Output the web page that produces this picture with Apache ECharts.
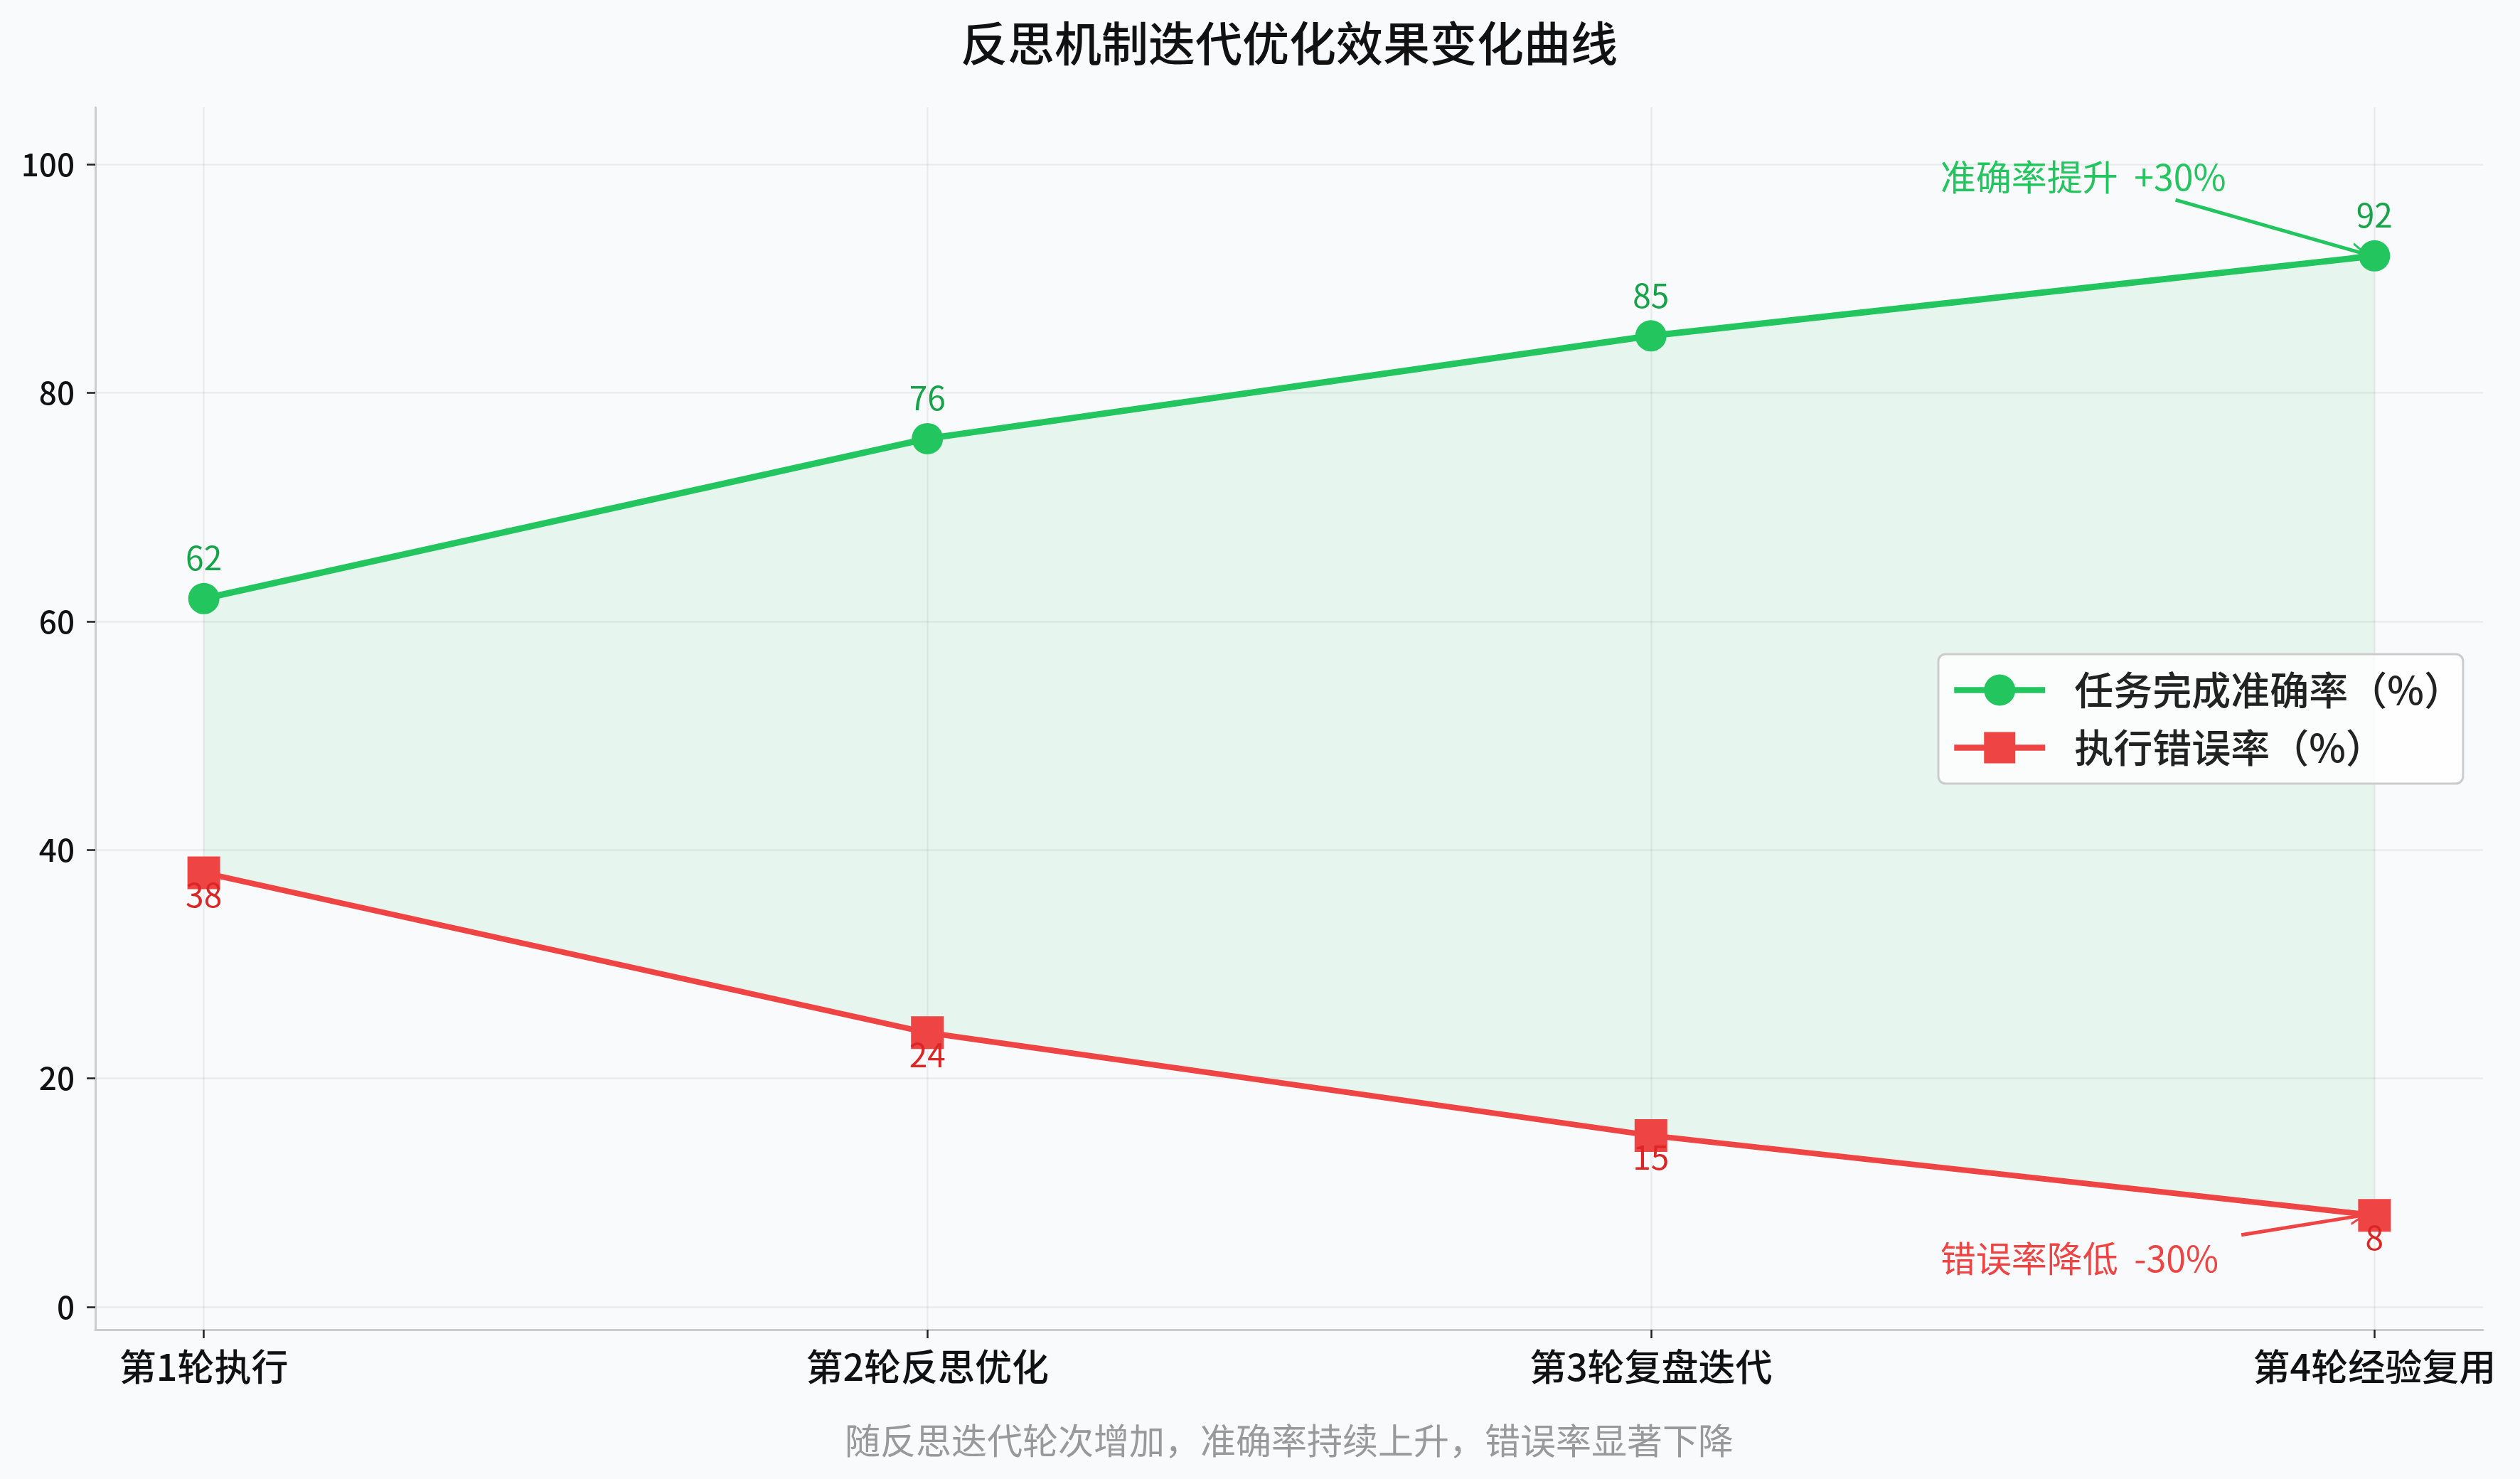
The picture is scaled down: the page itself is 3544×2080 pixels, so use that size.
<!DOCTYPE html>
<html lang="zh">
<head>
    <meta charset="UTF-8">
    <script src="https://cdn.jsdelivr.net/npm/echarts@6.0.0/dist/echarts.min.js"></script>
    <title>反思机制迭代优化效果变化曲线</title>
    <style>
        html, body { margin: 0; padding: 0; background: #f8fafc; }
        #chart { width: 3544px; height: 2080px; }
    </style>
</head>
<body>
    <div id="chart"></div>
    <script>
        // 数据
        const rounds = ['第1轮执行', '第2轮反思优化', '第3轮复盘迭代', '第4轮经验复用'];
        const accuracy = [62, 76, 85, 92];
        const errorRate = [38, 24, 15, 8];
        const roundTicks = [0, 1, 2, 3];
        const yTicks = [0, 20, 40, 60, 80, 100];

        // 注释 (数据坐标)
        const accNoteText = '准确率提升  +30%';
        const accNoteAt = [2.4, 98.9];
        const accArrow = [[2.725, 96.9], [2.98, 92.3]];
        const errNoteText = '错误率降低  -30%';
        const errNoteAt = [2.4, 4.2];
        const errArrow = [[2.816, 6.3], [2.978, 7.95]];

        const FONT = '"Noto Sans CJK SC", "Noto Sans", sans-serif';
        const GREEN = '#22c55e';
        const RED = '#ef4444';
        const gridColor = 'rgba(0,0,0,0.06)';
        // 开口箭头
        const arrowHead = 'path://M10,0 L20,20 L17,20 L10,6 L3,20 L0,20 Z';

        const pairs = arr => arr.map((v, i) => [i, v]);

        // 两条曲线之间的填充区域
        function renderBand(params, api) {
            if (params.dataIndex !== 0) return;
            const top = accuracy.map((v, i) => api.coord([i, v]));
            const bottom = errorRate.map((v, i) => api.coord([i, v])).reverse();
            return {
                type: 'polygon',
                shape: { points: top.concat(bottom) },
                style: { fill: 'rgba(34,197,94,0.08)' },
                silent: true
            };
        }

        const chart = echarts.init(document.getElementById('chart'), null, { renderer: 'canvas' });
        chart.setOption({
            animation: false,
            backgroundColor: '#f8fafc',
            textStyle: { fontFamily: FONT, fontWeight: 500 },
            graphic: [{
                type: 'text', x: 1813, y: 61,
                style: { text: '反思机制迭代优化效果变化曲线', font: '500 66px ' + FONT, fill: '#111', align: 'center', verticalAlign: 'middle' }
            }, {
                type: 'text', x: 1813, y: 2026,
                style: { text: '随反思迭代轮次增加，准确率持续上升，错误率显著下降', font: 'normal 50px ' + FONT, fill: '#999', align: 'center', verticalAlign: 'middle' }
            }],
            grid: { left: 134, right: 52, top: 151, bottom: 210 },
            legend: {
                data: ['任务完成准确率（%）', '执行错误率（%）'],
                orient: 'vertical',
                left: 2726, top: 920,
                padding: [23, 0, 23, 18],
                itemWidth: 128, itemHeight: 55, itemGap: 26,
                lineStyle: { width: 8.5 },
                backgroundColor: 'rgba(255,255,255,0.8)',
                borderColor: '#cccccc', borderWidth: 3, borderRadius: 10,
                textStyle: { fontSize: 55, color: '#222', fontFamily: FONT, fontWeight: 500, padding: [0, 0, 0, 36] }
            },
            xAxis: {
                type: 'value', min: -0.15, max: 3.15,
                axisLine: { onZero: false, lineStyle: { color: '#cccccc', width: 3 } },
                axisTick: { customValues: roundTicks, length: 12, lineStyle: { color: '#222', width: 2.5 } },
                axisLabel: { customValues: roundTicks, formatter: v => rounds[v], fontSize: 52, fontWeight: 500, color: '#111', margin: 26, fontFamily: FONT },
                splitLine: { show: true, lineStyle: { color: gridColor, width: 2.5 } }
            },
            yAxis: {
                type: 'value', min: -2, max: 105,
                axisLine: { show: true, onZero: false, lineStyle: { color: '#cccccc', width: 3 } },
                axisTick: { show: true, customValues: yTicks, length: 12, lineStyle: { color: '#222', width: 2.5 } },
                axisLabel: { customValues: yTicks, fontSize: 44, fontWeight: 500, color: '#111', margin: 29, fontFamily: FONT },
                splitLine: { show: true, lineStyle: { color: gridColor, width: 2.5 } }
            },
            series: [{
                name: 'band', type: 'custom', renderItem: renderBand,
                data: pairs(accuracy), encode: { x: 0, y: 1 }, silent: true, z: 1
            }, {
                name: '任务完成准确率（%）', type: 'line', data: pairs(accuracy), z: 3,
                symbol: 'circle', symbolSize: 44,
                lineStyle: { color: GREEN, width: 9 }, itemStyle: { color: GREEN },
                label: { show: true, position: 'top', distance: 12, fontSize: 46, fontWeight: 'normal', color: '#16a34a', fontFamily: FONT },
                markPoint: {
                    symbol: 'circle', symbolSize: 1, itemStyle: { color: 'transparent' }, silent: true,
                    label: { show: true, position: 'inside', align: 'left', verticalAlign: 'middle', formatter: accNoteText, fontSize: 50, fontWeight: 'normal', color: GREEN, fontFamily: FONT },
                    data: [{ coord: accNoteAt }]
                },
                markLine: {
                    silent: true, symbol: ['none', arrowHead], symbolSize: [22, 24],
                    label: { show: false },
                    lineStyle: { color: GREEN, width: 5, type: 'solid' },
                    data: [[{ coord: accArrow[0] }, { coord: accArrow[1] }]]
                }
            }, {
                name: '执行错误率（%）', type: 'line', data: pairs(errorRate), z: 3,
                symbol: 'rect', symbolSize: 46,
                lineStyle: { color: RED, width: 8 }, itemStyle: { color: RED },
                label: { show: true, position: 'inside', offset: [0, 31], fontSize: 46, fontWeight: 'normal', color: '#dc2626', fontFamily: FONT },
                markPoint: {
                    symbol: 'circle', symbolSize: 1, itemStyle: { color: 'transparent' }, silent: true,
                    label: { show: true, position: 'inside', align: 'left', verticalAlign: 'middle', formatter: errNoteText, fontSize: 50, fontWeight: 'normal', color: RED, fontFamily: FONT },
                    data: [{ coord: errNoteAt }]
                },
                markLine: {
                    silent: true, symbol: ['none', arrowHead], symbolSize: [22, 24],
                    label: { show: false },
                    lineStyle: { color: RED, width: 5, type: 'solid' },
                    data: [[{ coord: errArrow[0] }, { coord: errArrow[1] }]]
                }
            }]
        });
    </script>
</body>
</html>
